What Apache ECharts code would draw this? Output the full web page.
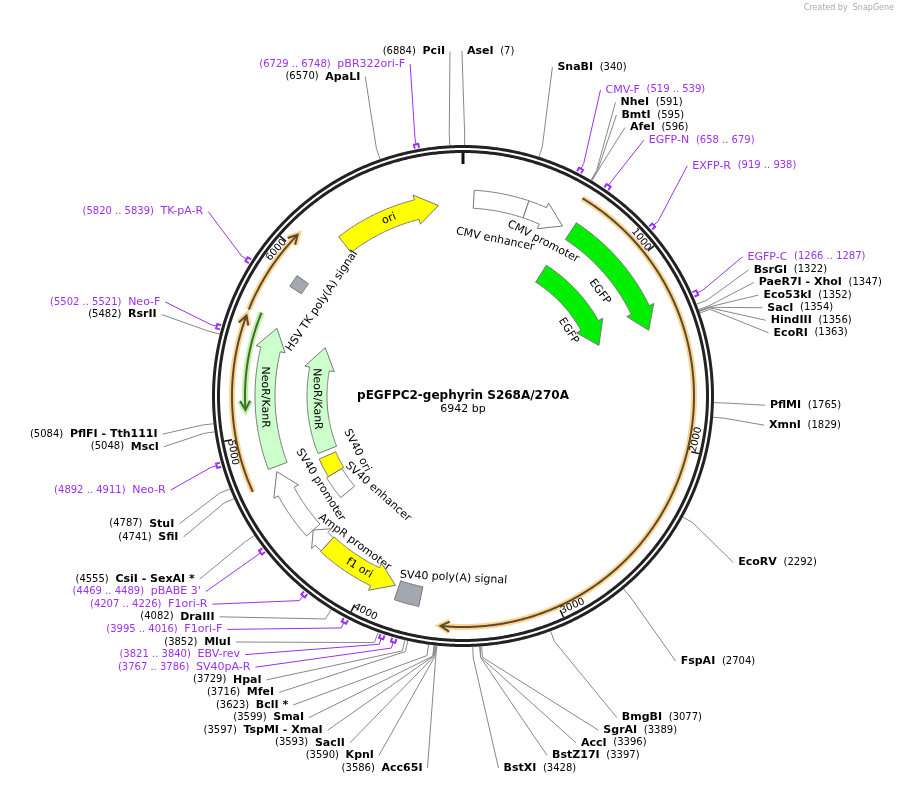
<!DOCTYPE html>
<html><head><meta charset="utf-8">
<script src="https://cdn.jsdelivr.net/npm/echarts@6/dist/echarts.min.js"></script>
<style>html,body{margin:0;background:#fff}#c{width:904px;height:785px}</style>
</head><body><div id="c"></div>
<script>
const TOTAL = 6942;
const plasmidName = 'pEGFPC2-gephyrin S268A/270A';
const enzNames = ['AseI','SnaBI','NheI','BmtI','AfeI','BsrGI','PaeR7I - XhoI','Eco53kI','SacI','HindIII','EcoRI','PflMI','XmnI','EcoRV','FspAI','BmgBI','SgrAI','AccI','BstZ17I','BstXI',
  'Acc65I','KpnI','SacII','TspMI - XmaI','SmaI','BclI *','MfeI','HpaI','MluI','DraIII','CsiI - SexAI *','SfiI','StuI','MscI','PflFI - Tth111I','RsrII','ApaLI','PciI'];
const enzPos = [7,340,591,595,596,1322,1347,1352,1354,1356,1363,1765,1829,2292,2704,3077,3389,3396,3397,3428,
  3586,3590,3593,3597,3599,3623,3716,3729,3852,4082,4555,4741,4787,5048,5084,5482,6570,6884];
const primerNames = ['pBR322ori-F','CMV-F','EGFP-N','EXFP-R','EGFP-C','TK-pA-R','Neo-F','Neo-R',"pBABE 3'",'F1ori-R','F1ori-F','EBV-rev','SV40pA-R'];
const primerStart = [6729,519,658,919,1266,5820,5502,4892,4469,4207,3995,3821,3767];
const primerEnd   = [6748,539,679,938,1287,5839,5521,4911,4489,4226,4016,3840,3786];
const featNames = ['CMV enhancer','CMV promoter','EGFP','EGFP','ori','HSV TK poly(A) signal','NeoR/KanR','NeoR/KanR','SV40 ori','SV40 enhancer','SV40 promoter','AmpR promoter','f1 ori','SV40 poly(A) signal'];
const featStart = [60,360,640,627,6210,5830,4808,4789,4610,4440,4400,4290,3850,3700];
const featEnd   = [360,585,1360,1342,6800,5900,5592,5579,4750,4610,4780,4400,4290,3830];
const featDir   = [0,1,1,1,1,0,1,1,0,0,1,1,-1,0];
const orfStart = [600,4734,5630];
const orfEnd   = [3579,5600,6060];
const thinStart = [5136];
const thinEnd = [5640];
const tickValues = [1000,2000,3000,4000,5000,6000];

// ---- styles / layout (not data) ----
const W='#ffffff', Y='#ffff00', G='#00ee00', LG='#ccffcc', GR='#a3a8b0';
const featStyle = [
 {r:197,w:18,fill:W,lab:'side',lp:224,lr:160},
 {r:197,w:18,fill:W,lab:'side',lp:530,lr:174},
 {r:197,w:20,fill:G,lab:'side',lp:1016,lr:172},
 {r:145,w:20,fill:G,lab:'side',lp:1124,lr:124},
 {r:192,w:20,fill:Y,lab:'on'},
 {r:198,w:14,fill:GR,lab:'side',lp:5862,lr:170},
 {r:198,w:20,fill:LG,lab:'on'},
 {r:146,w:20,fill:LG,lab:'on'},
 {r:148,w:18,fill:Y,lab:'side',lp:4680,lr:119},
 {r:150,w:18,fill:W,lab:'side',lp:4272,lr:128},
 {r:201,w:18,fill:W,lab:'side',lp:4590,lr:168},
 {r:201,w:18,fill:W,lab:'side',lp:4175,lr:182},
 {r:201,w:20,fill:Y,lab:'on'},
 {r:205,w:20,fill:GR,lab:'side',lp:3529,lr:182}
];
const FONT='"DejaVu Sans", Verdana, sans-serif';

function P(api,r,bp){return api.coord([r,bp]);}
function arcPts(api,r,a,b){const n=Math.max(2,Math.ceil(Math.abs(b-a)/8));const pts=[];for(let i=0;i<=n;i++)pts.push(P(api,r,a+(b-a)*i/n));return pts;}
function rot(bp){const t=bp/TOTAL*360;const d=(t<=90||t>=270)?-t:180-t;return d*Math.PI/180;}
function arrowPts(api,r,w,s,e,dir,headPx,hw){
  const hb=Math.min(headPx/(2*Math.PI*r)*TOTAL,(e-s)*0.6);
  const o=r+w/2,i=r-w/2;
  if(dir===1){return [...arcPts(api,o,s,e-hb),P(api,o+hw,e-hb),P(api,r,e),P(api,i-hw,e-hb),...arcPts(api,i,e-hb,s)];}
  if(dir===-1){return [P(api,r,s),P(api,o+hw,s+hb),...arcPts(api,o,s+hb,e),...arcPts(api,i,e,s+hb),P(api,i-hw,s+hb)];}
  return [...arcPts(api,o,s,e),...arcPts(api,i,e,s)];
}

const featSeries = {type:'custom',coordinateSystem:'polar',silent:true,
 data:featNames.map((n,i)=>[0,featStart[i]]),
 renderItem:function(params,api){
  const i=params.dataIndex, st=featStyle[i], s=featStart[i], e=featEnd[i];
  const ch=[{type:'polygon',shape:{points:arrowPts(api,st.r,st.w,s,e,featDir[i],22,5)},style:{fill:st.fill,stroke:'#777',lineWidth:1}}];
  const m=st.lab==='on'?(s+e)/2:st.lp, rr=st.lab==='on'?st.r:st.lr;
  const p=P(api,rr,m);
  ch.push({type:'text',x:p[0],y:p[1],rotation:rot(m),style:{text:featNames[i],fill:'#000',font:'11px '+FONT,align:'center',verticalAlign:'middle'}});
  return {type:'group',children:ch};
 }};

function thinArrow(api,r,s,e,dir,halo,line){
  const pts=arcPts(api,r,s,e);
  const hb=9/(2*Math.PI*r)*TOTAL;
  const tipBp=dir===1?e:s, baseBp=dir===1?e-hb:s+hb;
  const head=[P(api,r+5,baseBp),P(api,r,tipBp),P(api,r-5,baseBp)];
  return [
    {type:'polyline',shape:{points:pts},style:{stroke:halo,lineWidth:6,fill:null}},
    {type:'polyline',shape:{points:head},style:{stroke:halo,lineWidth:6,fill:null}},
    {type:'polyline',shape:{points:pts},style:{stroke:line,lineWidth:2,fill:null}},
    {type:'polyline',shape:{points:head},style:{stroke:line,lineWidth:2,fill:null}}
  ];
}
const orfSeries={type:'custom',coordinateSystem:'polar',silent:true,
 data:orfStart.map((s,i)=>[0,s]),
 renderItem:function(params,api){const i=params.dataIndex;return {type:'group',children:thinArrow(api,231,orfStart[i],orfEnd[i],1,'#fcd596','#5c4a28')};}};
const thinSeries={type:'custom',coordinateSystem:'polar',silent:true,
 data:thinStart.map((s,i)=>[0,s]),
 renderItem:function(params,api){const i=params.dataIndex;return {type:'group',children:thinArrow(api,218,thinStart[i],thinEnd[i],-1,'#bff0a8','#3f6e2a')};}};

const backbone={type:'custom',coordinateSystem:'polar',silent:true,data:[[0,0]],z:3,
 renderItem:function(params,api){
  const ch=[];
  ch.push({type:'polyline',shape:{points:arcPts(api,249.5,0,TOTAL)},style:{stroke:'#222',lineWidth:3,fill:null}});
  ch.push({type:'polyline',shape:{points:arcPts(api,244.5,0,TOTAL)},style:{stroke:'#222',lineWidth:3,fill:null}});
  ch.push({type:'line',shape:{x1:P(api,243,0)[0],y1:P(api,243,0)[1],x2:P(api,232,0)[0],y2:P(api,232,0)[1]},style:{stroke:'#111',lineWidth:3}});
  tickValues.forEach(v=>{const a=P(api,243,v),b=P(api,235,v),t=P(api,237,v-60);
    ch.push({type:'line',shape:{x1:a[0],y1:a[1],x2:b[0],y2:b[1]},style:{stroke:'#111',lineWidth:1.5}});
    ch.push({type:'text',x:t[0],y:t[1],rotation:rot(v),style:{text:String(v),fill:'#000',font:'10px '+FONT,align:'center',verticalAlign:'middle'}});});
  const c=P(api,0,0);
  ch.push({type:'text',x:c[0],y:c[1],style:{text:plasmidName,fill:'#000',font:'bold 12px '+FONT,align:'center',verticalAlign:'middle'}});
  ch.push({type:'text',x:c[0],y:c[1]+13,style:{text:TOTAL+' bp',fill:'#000',font:'11px '+FONT,align:'center',verticalAlign:'middle'}});
  return {type:'group',children:ch};
 }};

let LAYOUT=null;
function buildLayout(api){
  const c=P(api,0,0);
  const items=[];
  enzNames.forEach((n,i)=>items.push({kind:'e',name:n,pos:enzPos[i],s:enzPos[i],e:enzPos[i]}));
  primerNames.forEach((n,i)=>items.push({kind:'p',name:n,pos:(primerStart[i]+primerEnd[i])/2,s:primerStart[i],e:primerEnd[i]}));
  items.forEach(it=>{it.side=it.pos<TOTAL/2?'R':'L';const p=P(api,345,it.pos);it.iy=p[1];it.ix=P(api,305,it.pos)[0];});
  ['R','L'].forEach(side=>{
    const arr=items.filter(it=>it.side===side).sort((a,b)=>side==='R'?a.pos-b.pos:b.pos-a.pos);
    const gap=12.6,minY=45,maxY=768;
    for(let k=0;k<arr.length;k++){arr[k].y=Math.max(arr[k].iy,minY,k?arr[k-1].y+gap:-1e9);}
    for(let k=arr.length-1;k>=0;k--){arr[k].y=Math.min(arr[k].y,k<arr.length-1?arr[k+1].y-gap:maxY);}
    arr.forEach(it=>{const dy=it.y-c[1];const Ry=dy<0?315:375;const Rx=dy<0?315:305;
      let dx=Rx*Math.sqrt(Math.max(0,1-(dy/Ry)*(dy/Ry)));
      const idx=side==='R'?it.ix-c[0]:c[0]-it.ix;
      if(dy<0)dx=Math.max(dx,idx);
      it.x=side==='R'?c[0]+dx:c[0]-dx;});
  });
  LAYOUT=items;
}
const labelSeries={type:'custom',coordinateSystem:'polar',silent:true,
 data:enzNames.map((n,i)=>[0,enzPos[i]]).concat(primerNames.map((n,i)=>[0,primerStart[i]])),
 renderItem:function(params,api){
  if(!LAYOUT)buildLayout(api);
  const it=LAYOUT[params.dataIndex];
  const isP=it.kind==='p', col=isP?'#9b30f0':'#888';
  const a=P(api,isP?256:251,it.pos), m=P(api,262,it.pos);
  const ex=it.side==='R'?it.x-3:it.x+3;
  const ch=[{type:'polyline',shape:{points:[a,m,[ex,it.y]]},style:{stroke:col,lineWidth:1,fill:null}}];
  if(isP){ch.push({type:'polyline',shape:{points:[P(api,252,it.s),...arcPts(api,256,it.s,it.e),P(api,252,it.e)]},style:{stroke:'#9b30f0',lineWidth:2,fill:null}});}
  const nm=isP?'{m|'+it.name+'}':'{n|'+it.name+'}';
  const ps=isP?'{q|('+it.s+' .. '+it.e+')}':'{p|('+it.pos+')}';
  const txt=it.side==='R'?nm+'  '+ps:ps+'  '+nm;
  ch.push({type:'text',x:it.side==='R'?it.x+2:it.x-2,y:it.y,style:{text:txt,align:it.side==='R'?'left':'right',verticalAlign:'middle',
    rich:{n:{font:'bold 11px '+FONT,fill:'#000'},p:{font:'10px '+FONT,fill:'#000'},m:{font:'11px '+FONT,fill:'#9b30f0'},q:{font:'10px '+FONT,fill:'#9b30f0'}}}});
  return {type:'group',children:ch};
 }};

const chart=echarts.init(document.getElementById('c'),null,{renderer:'canvas'});
chart.setOption({animation:false,
 polar:{center:[463,396],radius:400},
 angleAxis:{type:'value',min:0,max:TOTAL,startAngle:90,clockwise:true,show:false},
 radiusAxis:{type:'value',min:0,max:400,show:false},
 graphic:[{type:'text',right:10,top:4,style:{text:'Created by  SnapGene',fill:'#aaa',font:'8px '+FONT}}],
 series:[orfSeries,thinSeries,featSeries,backbone,labelSeries]});
</script></body></html>
